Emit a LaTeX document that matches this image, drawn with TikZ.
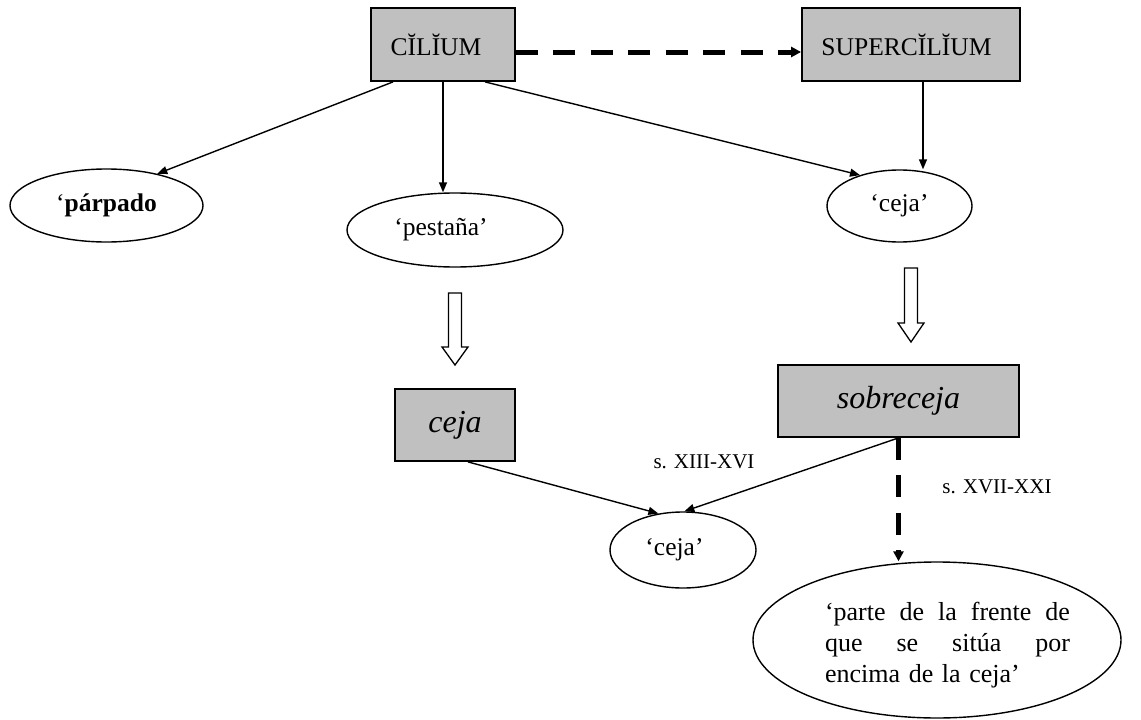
\documentclass[tikz,border=0pt]{standalone}
\usepackage{fontspec}
\setmainfont{Liberation Serif}
\usetikzlibrary{arrows.meta,shapes.geometric}
\definecolor{boxgray}{HTML}{C0C0C0}
\tikzset{
  graybox/.style={draw=black, line width=1.8pt, fill=boxgray, rectangle, inner sep=0pt, font=\fontsize{25.5}{30}\selectfont},
  italbox/.style={graybox, font=\fontsize{32}{36}\selectfont\itshape},
  oval/.style={draw=black, line width=1.4pt, ellipse, inner sep=0pt, font=\fontsize{25.5}{30}\selectfont},
  thin/.style={line width=1.4pt, -{Triangle[length=10pt,width=8pt]}},
  thickdash/.style={line width=5pt, dash pattern=on 22pt off 15.5pt, -{Triangle[length=10pt,width=10pt]}},
  hollow/.style={draw=black, fill=white, line width=1.3pt, line join=miter},
  datelabel/.style={inner sep=0pt, font=\fontsize{21}{24}\selectfont}
}
\newcommand\hollowarr[4]{%
  \draw[hollow] (#1-6.5,#2) -- (#1-6.5,#3) -- (#1-13,#3) -- (#1,#4) -- (#1+13,#3) -- (#1+6.5,#3) -- (#1+6.5,#2) -- cycle;}
\newcommand\spreadline[1]{\leavevmode\hbox to 245pt{#1}}
\begin{document}
\begin{tikzpicture}[x=1pt,y=-1pt]
\useasboundingbox[fill=white] (0,0) rectangle (1141,720);

% boxes
\node[graybox, minimum width=144pt, minimum height=73pt] (cil) at (443,44.5) {CĬLĬUM\kern14pt};
\node[graybox, minimum width=218pt, minimum height=73pt] (sup) at (911,44.5) {SUPERCĬLĬUM\kern9pt};
\node[italbox, minimum width=120pt, minimum height=72pt] (cejabox) at (455,425) {ceja};
\node[italbox, minimum width=241pt, minimum height=72pt] (sobre) at (898.5,401) {sobreceja};

% ellipses
\node[oval, minimum width=193pt, minimum height=73pt] (parp) at (106.5,205.5) {‘\textbf{párpado}};
\node[oval, minimum width=216pt, minimum height=74pt] (pest) at (455,230) {‘pestaña’\kern28pt};
\node[oval, minimum width=145pt, minimum height=72pt] (ceja1) at (899.5,206) {‘ceja’};
\node[oval, minimum width=146pt, minimum height=76pt] (ceja2) at (683,550) {‘ceja’\kern17pt};
\node[oval, minimum width=368pt, minimum height=156pt] (big) at (937,640) {};
\node[inner sep=0pt, align=left, text width=245pt, font=\fontsize{26}{31}\selectfont] (bigtext) at (947.5,645)
  {\spreadline{‘parte\hfill de\hfill la\hfill frente\hfill de}\\\spreadline{que\hfill se\hfill sitúa\hfill por}\\encima de la ceja’};

% labels
\node[datelabel] (l1) at (704,462) {s. XIII-XVI};
\node[datelabel] (l2) at (997,487) {s. XVII-XXI};

% connectors
\draw[thickdash] ([yshift=-7.5pt]cil.east) -- ([yshift=-7.5pt]sup.west);
\draw[thin] ([xshift=-50pt]cil.south) -- (parp.32);
\draw[thin] (cil.south) -- (cil.south |- pest.north);
\draw[thin] ([xshift=42pt]cil.south) -- (ceja1.142);
\draw[thin] ([xshift=12pt]sup.south) -- ([xshift=12pt]sup.south |- ceja1.north);
\draw[thin] ([xshift=13pt]cejabox.south) -- (ceja2.124);
\draw[thin] (sobre.south) -- (ceja2.88);
\draw[thickdash] (sobre.south) -- (sobre.south |- big.north);

% hollow arrows
\hollowarr{455}{293}{347}{365}
\hollowarr{911}{268}{323}{342}
\end{tikzpicture}
\end{document}
